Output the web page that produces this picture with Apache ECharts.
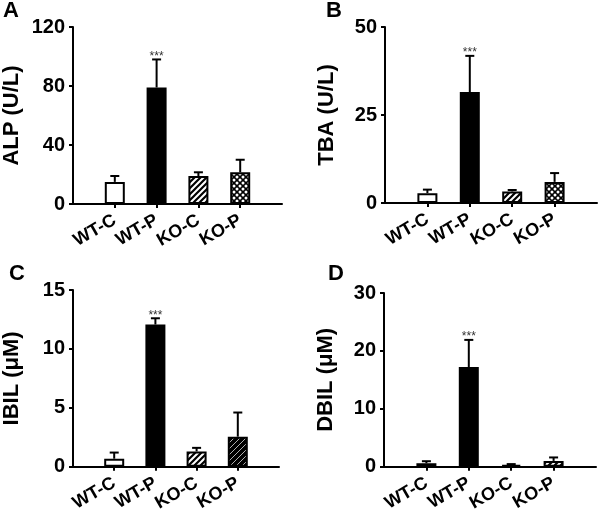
<!DOCTYPE html>
<html>
<head>
<meta charset="utf-8">
<script src="https://cdn.jsdelivr.net/npm/echarts@6/dist/echarts.min.js"></script>
<style>html,body{margin:0;padding:0;background:#fff}#c{width:600px;height:514px}</style>
</head>
<body>
<div id="c"></div>
<script>
// ---- data ----
const categories = ['WT-C', 'WT-P', 'KO-C', 'KO-P'];
const alpMean = [15, 79, 19, 21.5];
const alpSD   = [4, 19, 2.5, 8.5];
const tbaMean = [2.8, 31.5, 3.3, 6.0];
const tbaSD   = [1.0, 10.3, 0.4, 2.5];
const ibilMean = [0.68, 12.07, 1.3, 2.55];
const ibilSD   = [0.52, 0.53, 0.3, 2.05];
const dbilMean = [0.6, 17.2, 0.3, 1.0];
const dbilSD   = [0.35, 4.7, 0.15, 0.6];
const alpTicks = [0, 40, 80, 120];
const tbaTicks = [0, 25, 50];
const ibilTicks = [0, 5, 10, 15];
const dbilTicks = [0, 10, 20, 30];
const significant = ['', '***', '', ''];

// ---- patterns ----
function makeCanvas(s, draw) {
  const c = document.createElement('canvas');
  c.width = s; c.height = s;
  draw(c.getContext('2d'), s);
  return { image: c, repeat: 'repeat' };
}
function hatch(bg, fg, lw) {
  return makeCanvas(6, (g, s) => {
    g.fillStyle = bg; g.fillRect(0, 0, s, s);
    g.strokeStyle = fg; g.lineWidth = lw;
    g.beginPath();
    g.moveTo(-1, s + 1); g.lineTo(s + 1, -1);
    g.moveTo(-1, 1); g.lineTo(1, -1);
    g.moveTo(s - 1, s + 1); g.lineTo(s + 1, s - 1);
    g.stroke();
  });
}
const crossPat = makeCanvas(6, (g, s) => {
  g.fillStyle = '#000'; g.fillRect(0, 0, s, s);
  g.fillStyle = '#fff';
  const dots = [[3, 3], [0, 0], [6, 0], [0, 6], [6, 6]];
  dots.forEach(([x, y]) => { g.beginPath(); g.arc(x, y, 1.5, 0, Math.PI * 2); g.fill(); });
});
const fills = {
  white: '#ffffff',
  black: '#000000',
  grey: '#a0a0a0',
  hatch: hatch('#ffffff', '#000000', 2.2),
  darkhatch: hatch('#000000', '#b0b0b0', 1),
  cross: crossPat
};

const panels = [
  { letter: 'A', name: 'ALP (U/L)', mean: alpMean, sd: alpSD, ticks: alpTicks,
    grid: { left: 70, top: 27, width: 212, height: 177 }, nameGap: 50,
    fill: ['white', 'black', 'hatch', 'cross'], lp: [3, 0] },
  { letter: 'B', name: 'TBA (U/L)', mean: tbaMean, sd: tbaSD, ticks: tbaTicks,
    grid: { left: 385, top: 27, width: 212, height: 176 }, nameGap: 47,
    fill: ['white', 'black', 'hatch', 'cross'], lp: [326, 0] },
  { letter: 'C', name: 'IBIL (\u03bcM)', mean: ibilMean, sd: ibilSD, ticks: ibilTicks,
    grid: { left: 70, top: 290, width: 209, height: 178 }, nameGap: 50,
    fill: ['white', 'black', 'hatch', 'darkhatch'], lp: [9, 263] },
  { letter: 'D', name: 'DBIL (\u03bcM)', mean: dbilMean, sd: dbilSD, ticks: dbilTicks,
    grid: { left: 384, top: 293, width: 212, height: 177 }, nameGap: 47,
    fill: ['grey', 'black', 'hatch', 'hatch'], lp: [328, 263] }
];

const FONT = 'Liberation Sans, Arial, sans-serif';
const axisCats = [''].concat(categories, ['']);

const option = {
  animation: false,
  backgroundColor: '#fff',
  grid: [], xAxis: [], yAxis: [], series: [], graphic: []
};

panels.forEach((p, i) => {
  option.grid.push(Object.assign({ containLabel: false }, p.grid));
  option.xAxis.push({
    type: 'category', gridIndex: i, data: axisCats, boundaryGap: false,
    axisLine: { lineStyle: { color: '#000', width: 2 } },
    axisTick: { show: true, length: 4, lineStyle: { color: '#000', width: 2 },
      interval: (idx) => idx >= 1 && idx <= categories.length },
    axisLabel: { interval: 0, rotate: 30, margin: 15, color: '#000',
      fontFamily: FONT, fontWeight: 'bold', fontSize: 18 },
    splitLine: { show: false }
  });
  const tk = p.ticks;
  option.yAxis.push({
    type: 'value', gridIndex: i, min: tk[0], max: tk[tk.length - 1], interval: tk[1] - tk[0],
    name: p.name, nameLocation: 'middle', nameGap: p.nameGap,
    nameTextStyle: { fontFamily: FONT, fontWeight: 'bold', fontSize: 22, color: '#000' },
    axisLine: { show: true, lineStyle: { color: '#000', width: 2 } },
    axisTick: { show: true, length: 4, lineStyle: { color: '#000', width: 2 } },
    axisLabel: { margin: 8, color: '#000', fontFamily: FONT, fontWeight: 'bold', fontSize: 20 },
    splitLine: { show: false }
  });
  option.series.push({
    type: 'bar', xAxisIndex: i, yAxisIndex: i, barWidth: 20,
    data: p.mean.map((v, k) => ({
      value: [k + 1, v],
      itemStyle: { color: fills[p.fill[k]], borderColor: '#000', borderWidth: 2 }
    }))
  });
  option.series.push({
    type: 'custom', xAxisIndex: i, yAxisIndex: i, clip: false, z: 5,
    data: p.mean.map((v, k) => [k + 1, v, v + p.sd[k], k]),
    renderItem: (params, api) => {
      const x = api.value(0), m = api.value(1), t = api.value(2), k = api.value(3);
      const p0 = api.coord([x, m]), p1 = api.coord([x, t]);
      const cw = 9;
      const ch = [
        { type: 'line', shape: { x1: p0[0], y1: p0[1], x2: p1[0], y2: p1[1] },
          style: { stroke: '#000', lineWidth: 2 } },
        { type: 'line', shape: { x1: p1[0] - cw / 2, y1: p1[1], x2: p1[0] + cw / 2, y2: p1[1] },
          style: { stroke: '#000', lineWidth: 2 } }
      ];
      if (significant[k]) {
        ch.push({ type: 'text', x: p1[0], y: p1[1] + 3,
          style: { text: significant[k], fill: '#333', font: '12px ' + FONT,
            textAlign: 'center', textVerticalAlign: 'bottom' } });
      }
      return { type: 'group', children: ch };
    }
  });
  option.graphic.push({
    type: 'text', left: p.lp[0], top: p.lp[1],
    style: { text: p.letter, font: 'bold 22px ' + FONT, fill: '#000' }
  });
});

const chart = echarts.init(document.getElementById('c'), null, { renderer: 'canvas' });
chart.setOption(option);
</script>
</body>
</html>
